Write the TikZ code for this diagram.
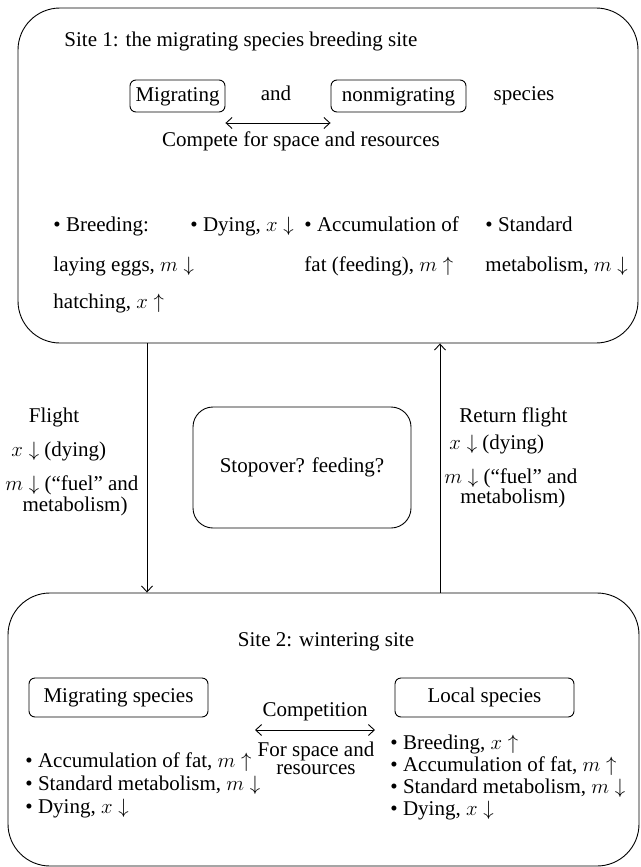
\documentclass[tikz,border=0pt]{standalone}
\usepackage{amsmath}
\usepackage{fontspec}
\setmainfont{Liberation Serif}
\usetikzlibrary{positioning, arrows.meta}

\tikzset{
  sitebox/.style={draw, rounded corners=42pt, line width=0.9pt},
  spbox/.style={draw, rounded corners=6pt, line width=0.9pt, inner sep=0pt,
    text height=14pt, text depth=4pt},
  txt/.style={inner sep=0pt, text height=12pt, text depth=4pt},
  lbl/.style={txt, anchor=west},
  blist/.style={inner sep=0pt, anchor=north west, align=left}
}

\begin{document}
\begin{tikzpicture}[x=1pt, y=-1pt, font=\fontsize{21}{24}\selectfont,
    >={Straight Barb[length=6pt, width=11pt]}, line width=0.9pt]
  \useasboundingbox (0,0) rectangle (640,867);

  % the two sites
  \node[sitebox, minimum width=620pt, minimum height=335pt] (site1) at (328,175.5) {};
  \node[sitebox, minimum width=631pt, minimum height=273pt] (site2) at (323.5,729.5) {};

  % site 1
  \node[lbl] (title1) at (64,43) {Site 1: the migrating species breeding site};
  \node[spbox, minimum width=95pt, minimum height=32pt] (mig) at (177.5,96) {Migrating};
  \node[txt] (and) at (276,96) {and};
  \node[spbox, minimum width=135pt, minimum height=32pt] (nonmig) at (398.5,96) {nonmigrating};
  \node[txt] (species) at (524,96) {species};
  \draw[<->] ([yshift=-27pt]mig.east) -- ([yshift=-27pt]nonmig.west);
  \node[txt] (compete) at (301,142) {Compete for space and resources};

  \node[lbl] (breed) at (53,227) {\textbullet\ Breeding:};
  \node[lbl] (dying) at (190,227) {\textbullet\ Dying, $x\downarrow$};
  \node[lbl] (accum) at (304,227) {\textbullet\ Accumulation of};
  \node[lbl] (stand) at (485,227) {\textbullet\ Standard};
  \node[lbl] (eggs) at (53,267) {laying eggs, $m\downarrow$};
  \node[lbl] (fat) at (304,267) {fat (feeding), $m\uparrow$};
  \node[lbl] (metab) at (485,267) {metabolism, $m\downarrow$};
  \node[lbl] (hatch) at (53,304) {hatching, $x\uparrow$};

  % flights
  \coordinate (flx) at (147,0);
  \coordinate (rfx) at (440,0);
  \draw[->] (flx |- site1.south) -- (flx |- site2.north);
  \draw[->] (rfx |- site2.north) -- (rfx |- site1.south);

  \node[txt] (flight) at (54,418) {Flight};
  \node[lbl] (flight1) at (11,452) {$x\downarrow$ (dying)};
  \node[lbl] (flight2) at (5,486) {$m\downarrow$ (“fuel” and};
  \node[txt] (flight3) at (75,507) {metabolism)};

  \node[lbl] (rflight) at (459,418) {Return flight};
  \node[lbl] (rflight1) at (449,445) {$x\downarrow$ (dying)};
  \node[lbl] (rflight2) at (444,479) {$m\downarrow$ (“fuel” and};
  \node[lbl] (rflight3) at (460,499) {metabolism)};

  \node[spbox, rounded corners=20pt, minimum width=218pt, minimum height=121pt] (stop) at (302,467.5) {Stopover? feeding?};

  % site 2
  \node[txt] (title2) at (326,642) {Site 2: wintering site};
  \node[spbox, minimum width=179pt, minimum height=39pt] (mig2) at (118.5,697.5) {Migrating species};
  \node[spbox, minimum width=179pt, minimum height=39pt] (local) at (484.5,697.5) {Local species};
  \node[txt] (competition) at (315,712) {Competition};
  \draw[<->] ([xshift=-60pt,yshift=-18pt]competition.center) -- ([xshift=60pt,yshift=-18pt]competition.center);
  \node[blist, anchor=north, align=center, font=\fontsize{21}{18}\selectfont] (forspace) at (316,741) {For space and\\resources};

  \node[blist, font=\fontsize{21}{23}\selectfont] (mlist) at (25,752) {\textbullet\ Accumulation of fat, $m\uparrow$\\
    \textbullet\ Standard metabolism, $m\downarrow$\\
    \textbullet\ Dying, $x\downarrow$};
  \node[blist, font=\fontsize{21}{22.3}\selectfont] (llist) at (390,734) {\textbullet\ Breeding, $x\uparrow$\\
    \textbullet\ Accumulation of fat, $m\uparrow$\\
    \textbullet\ Standard metabolism, $m\downarrow$\\
    \textbullet\ Dying, $x\downarrow$};
\end{tikzpicture}
\end{document}
